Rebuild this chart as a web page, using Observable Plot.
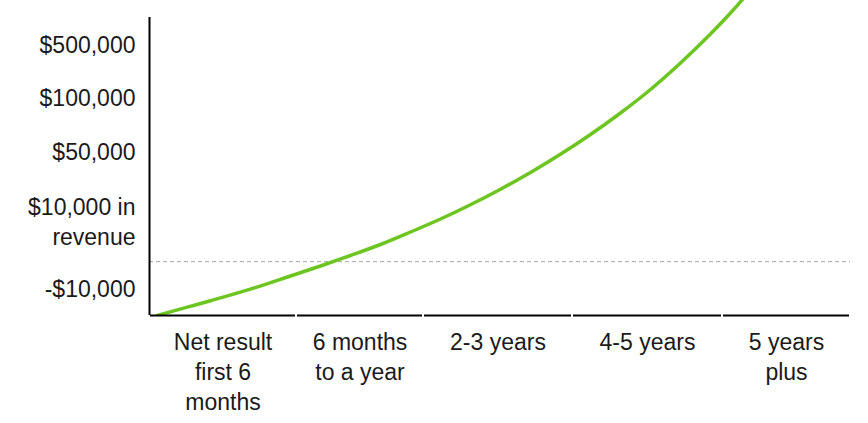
<!DOCTYPE html>
<html>
<head>
<meta charset="utf-8">
<script src="https://cdn.jsdelivr.net/npm/d3@7"></script>
<script src="https://cdn.jsdelivr.net/npm/@observablehq/plot@0.6"></script>
<style>
  html, body { margin: 0; padding: 0; background: #fff; }
  #chart svg { display: block; }
</style>
</head>
<body>
<div id="chart"></div>
<script>
// Phases along the x axis (category boundaries at 0..5)
const phases = ["Net result\nfirst 6\nmonths", "6 months\nto a year", "2-3 years", "4-5 years", "5 years\nplus"];
const phaseCenters = [0.5, 1.5, 2.5, 3.5, 4.5];
const phaseStarts = [0, 1, 2, 3, 4];
const phaseEnds = [1, 2, 3, 4, 5];

// Y axis labels and their levels (0 = bottom, 10 = top)
const yLabels = ["-$10,000", "$10,000 in\nrevenue", "$50,000", "$100,000", "$500,000"];
const yLevels = [0.9, 3.02, 5.24, 6.96, 8.64];
const breakEvenLevel = 1.71;
const axisTopLevel = 9.46;

// Growth curve (phase position, level)
const curveX = [0.054, 0.245, 0.415, 0.687, 0.939, 1.189, 1.425, 1.661, 1.898, 2.114, 2.315, 2.517, 2.718, 2.919, 3.12, 3.32, 3.52, 3.72, 3.92, 4.0625, 4.18];
const curveY = [0.0, 0.248, 0.47, 0.838, 1.222, 1.571, 1.905, 2.254, 2.651, 3.063, 3.517, 4.01, 4.54, 5.117, 5.746, 6.429, 7.175, 8.016, 8.937, 9.603, 10.143];

const curve = curveX.map((x, i) => ({x, y: curveY[i]}));
const segs = phaseStarts.map((s, i) => ({x1: s, x2: phaseEnds[i]}));
const xLab = phases.map((t, i) => ({x: phaseCenters[i], t}));
const yLab = yLabels.map((t, i) => ({y: yLevels[i], t}));

const font = "'Liberation Sans', Arial, sans-serif";
const textColor = "#1a1a1a";

const chart = Plot.plot({
  width: 868,
  height: 423,
  marginTop: 0,
  marginLeft: 149,
  marginRight: 18,
  marginBottom: 108,
  style: {fontFamily: font, background: "#fff"},
  x: {type: "linear", domain: [0, 1, 2, 3, 4, 5], range: [149, 296, 423, 572, 722, 850], axis: null},
  y: {domain: [0, 10], range: [315, 0], axis: null},
  marks: [
    Plot.ruleY([breakEvenLevel], {x1: 0, x2: 5, stroke: "#a8a8a8", strokeWidth: 1, strokeDasharray: "4,3"}),
    Plot.line(curve, {x: "x", y: "y", stroke: "#6cc520", strokeWidth: 3.5, curve: "catmull-rom", clip: true}),
    Plot.ruleX([0], {y1: 0, y2: axisTopLevel, stroke: "#000", strokeWidth: 2}),
    Plot.ruleY(segs, {y: 0, x1: "x1", x2: "x2", insetLeft: 1, insetRight: 1, stroke: "#000", strokeWidth: 2}),
    Plot.text(yLab, {x: 0, y: "y", text: "t", textAnchor: "end", lineAnchor: "middle", dx: -14, fontSize: 23, lineHeight: 1.3, fill: textColor}),
    Plot.text(xLab, {x: "x", y: 0, text: "t", textAnchor: "middle", lineAnchor: "top", dy: 13, fontSize: 23, lineHeight: 1.3, fill: textColor})
  ]
});
document.getElementById("chart").appendChild(chart);
</script>
</body>
</html>
